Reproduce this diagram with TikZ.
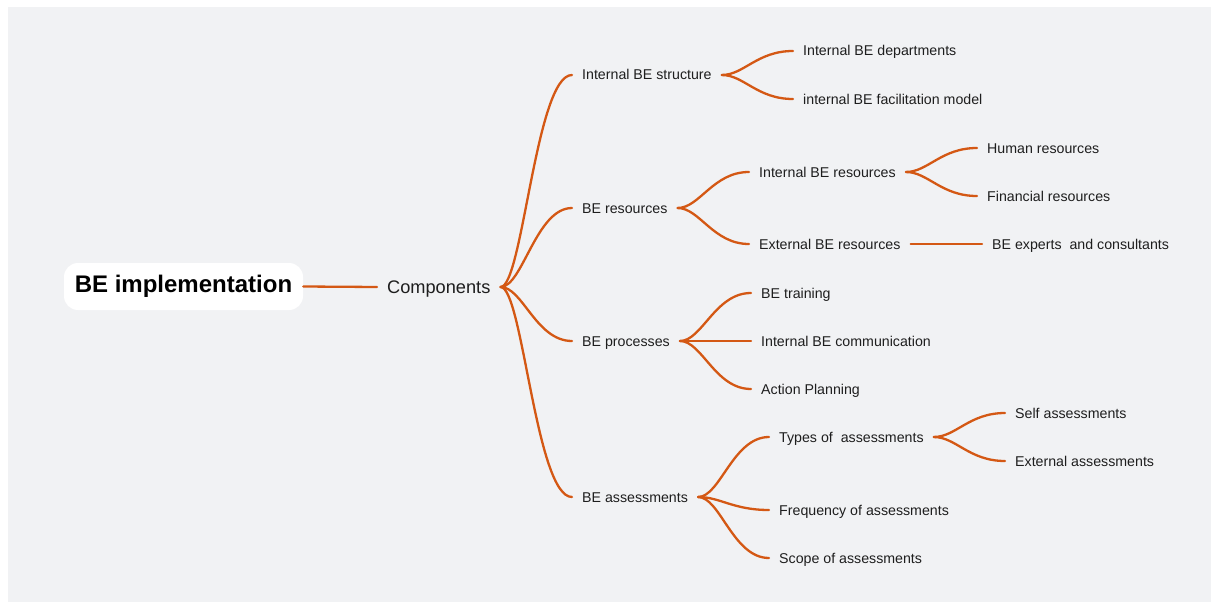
\documentclass[tikz,border=0pt]{standalone}
\usepackage{fontspec}
\setmainfont{Liberation Sans}
\definecolor{bg}{RGB}{241,242,244}
\definecolor{branch}{RGB}{212,88,20}
\definecolor{txt}{RGB}{30,30,30}
\tikzset{
  leaf/.style={anchor=west, inner xsep=10pt, inner ysep=0pt, text=txt,
    font=\fontsize{14.2}{16}\selectfont, text height=11pt, text depth=1pt},
  link/.style={draw=branch, line width=2.3pt, line cap=round},
}
\newcommand{\curvelink}[2]{\draw[link] (#1.east) .. controls +(22,0) and +(-36,0) .. (#2.west);}
\begin{document}
\begin{tikzpicture}[x=1pt,y=-1pt]
\useasboundingbox (0,0) rectangle (1211,602);
\fill[bg] (8,7) rectangle (1211,602);

% root and first level
\node[fill=white, rounded corners=14pt, minimum width=239pt, minimum height=47pt,
      inner sep=0pt, text=black, font=\fontsize{24}{28}\selectfont\bfseries]
      (root) at (183.5,286.5) {BE implementation};
\node[leaf, font=\fontsize{18.2}{20}\selectfont, text height=14pt, text depth=1pt]
      (comp) at (377,287) {Components};
\draw[link] (root.east) -- (comp.west);

% components
\node[leaf] (s1) at (572,75)  {Internal BE structure};
\node[leaf] (s2) at (572,208) {BE resources};
\node[leaf] (s3) at (572,341) {BE processes};
\node[leaf] (s4) at (572,497) {BE assessments};
\foreach \n in {s1,s2,s3,s4} {\curvelink{comp}{\n}}

% internal structure
\node[leaf] (s1a) at (793,51) {Internal BE departments};
\node[leaf] (s1b) at (793,99) {internal BE facilitation model};
\curvelink{s1}{s1a}
\curvelink{s1}{s1b}

% resources
\node[leaf] (r1) at (749,172) {Internal BE resources};
\node[leaf] (r2) at (749,244) {External BE resources};
\curvelink{s2}{r1}
\curvelink{s2}{r2}
\node[leaf] (r1a) at (977,148) {Human resources};
\node[leaf] (r1b) at (977,196) {Financial resources};
\curvelink{r1}{r1a}
\curvelink{r1}{r1b}
\node[leaf] (r2a) at (982,244) {BE experts\ \ and consultants};
\draw[link] (r2.east) -- (r2a.west);

% processes
\node[leaf] (p1) at (751,293) {BE training};
\node[leaf] (p2) at (751,341) {Internal BE communication};
\node[leaf] (p3) at (751,389) {Action Planning};
\curvelink{s3}{p1}
\draw[link] (s3.east) -- (p2.west);
\curvelink{s3}{p3}

% assessments
\node[leaf] (a1) at (769,437) {Types of\ \ assessments};
\node[leaf] (a2) at (769,510) {Frequency of assessments};
\node[leaf] (a3) at (769,558) {Scope of assessments};
\curvelink{s4}{a1}
\curvelink{s4}{a2}
\curvelink{s4}{a3}
\node[leaf] (a1a) at (1005,413) {Self assessments};
\node[leaf] (a1b) at (1005,461) {External assessments};
\curvelink{a1}{a1a}
\curvelink{a1}{a1b}
\end{tikzpicture}
\end{document}
